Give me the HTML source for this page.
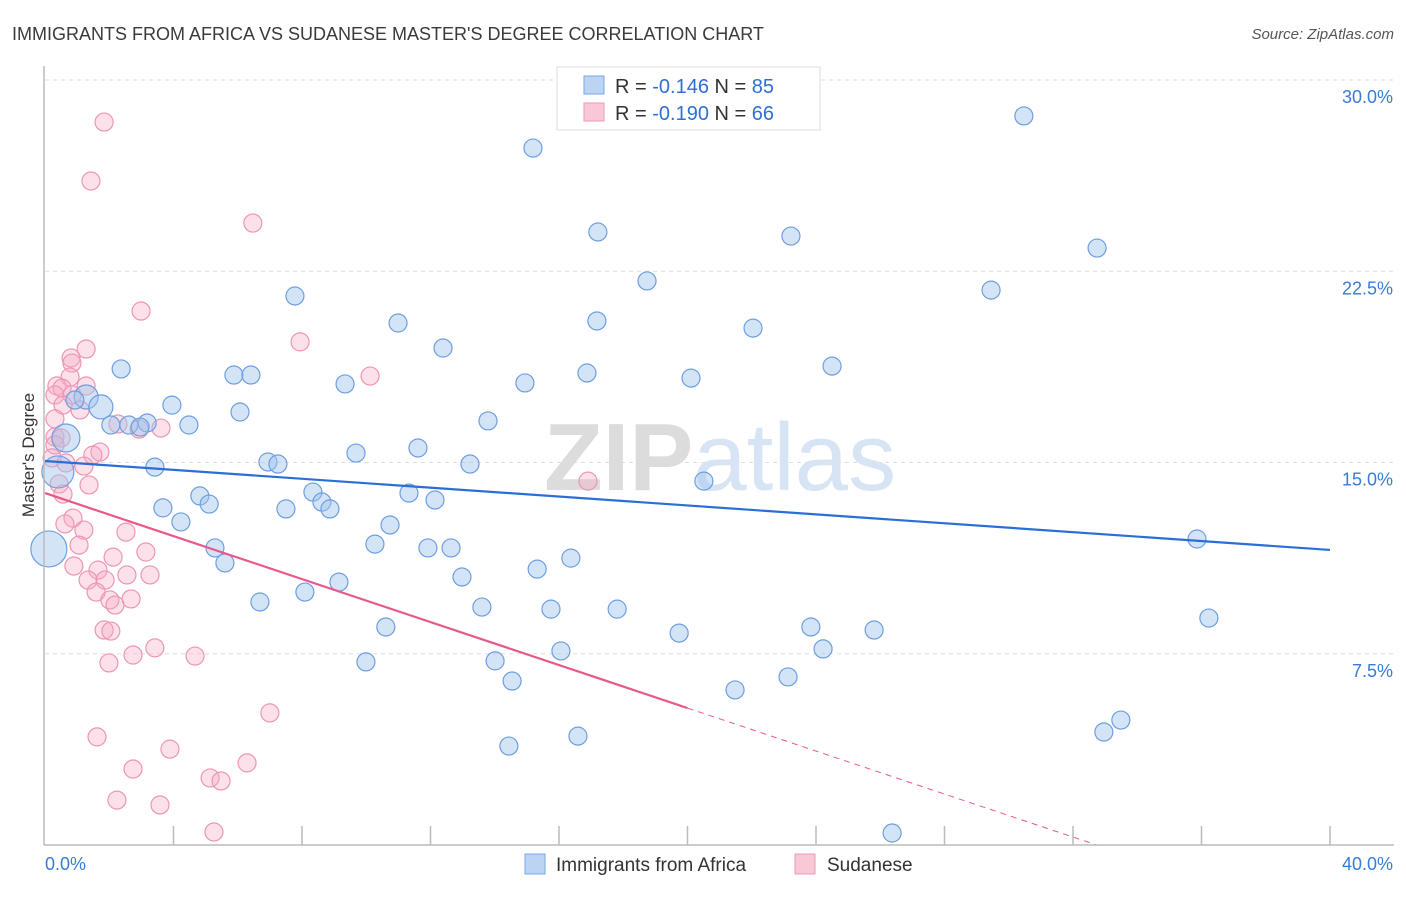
<!DOCTYPE html>
<html><head><meta charset="utf-8"><style>
body{margin:0;background:#fff;font-family:"Liberation Sans",sans-serif;}
svg text{font-family:"Liberation Sans",sans-serif;}
</style></head><body>
<svg id="chart" width="1406" height="892" xmlns="http://www.w3.org/2000/svg">
<text x="12" y="40" font-size="18" fill="#3a3a3a">IMMIGRANTS FROM AFRICA VS SUDANESE MASTER'S DEGREE CORRELATION CHART</text>
<text x="1394" y="39" font-size="15" font-style="italic" fill="#555" text-anchor="end">Source: ZipAtlas.com</text>
<g id="grid"></g>
<text x="720" y="490" font-size="96" text-anchor="middle" fill="#e4e4e4" font-family="Liberation Serif"><tspan font-weight="bold" fill="#dcdcdc">ZIP</tspan><tspan fill="#d6e4f4" font-family="Liberation Sans">atlas</tspan></text>
<g id="pts"></g>
<g id="lines"></g>
<g id="axes"></g>
<text transform="translate(34,455) rotate(-90)" font-size="17" fill="#333" text-anchor="middle">Master's Degree</text>
<g>
<rect x="557" y="67" width="263" height="63" fill="#fff" stroke="#ddd"/>
<rect x="584" y="76" width="20" height="18" fill="#bcd4f4" stroke="#7aa7e4"/>
<text x="615" y="93" font-size="20" fill="#333">R = <tspan fill="#2f6fd3">-0.146</tspan>   N = <tspan fill="#2f6fd3">85</tspan></text>
<rect x="584" y="103" width="20" height="18" fill="#f9c8d6" stroke="#ee9ab6"/>
<text x="615" y="120" font-size="20" fill="#333">R = <tspan fill="#2f6fd3">-0.190</tspan>   N = <tspan fill="#2f6fd3">66</tspan></text>
</g>
<g>
<rect x="525" y="854" width="20" height="20" fill="#bcd4f4" stroke="#7aa7e4"/>
<text x="556" y="871" font-size="19" fill="#333">Immigrants from Africa</text>
<rect x="795" y="854" width="20" height="20" fill="#f9c8d6" stroke="#ee9ab6"/>
<text x="827" y="871" font-size="19" fill="#333">Sudanese</text>
</g>
</svg>
<script>
const xTickLabels=["0.0%","40.0%"];
const yTicks=[7.5,15,22.5,30];
const yTickLabels=["7.5%","15.0%","22.5%","30.0%"];
const africaX=[15.19,30.47,17.21,23.22,32.75,18.74,29.45,7.78,10.99,17.18,22.04,12.39,24.50,2.37,5.88,6.41,14.94,16.87,9.34,20.11,1.28,1.74,0.93,3.95,6.07,3.18,2.05,2.61,2.96,4.48,13.79,0.65,11.61,9.68,6.94,7.25,13.23,3.42,0.40,20.51,8.34,4.82,11.33,8.62,12.14,5.11,3.67,7.50,8.87,4.23,10.74,10.27,5.29,11.92,12.64,16.37,5.60,0.12,15.32,12.98,9.15,35.86,8.09,6.69,13.60,15.75,17.81,36.23,10.61,23.84,25.81,19.74,24.22,16.06,9.99,14.01,14.54,23.13,21.48,33.49,32.96,14.44,16.59,26.37];
const africaY=[27.33,28.59,24.04,23.88,23.41,22.12,21.76,21.53,20.47,20.55,20.27,19.49,18.78,18.67,18.43,18.43,18.12,18.51,18.08,18.31,17.57,17.18,17.45,17.25,16.98,16.55,16.47,16.47,16.39,16.47,16.63,15.96,15.57,15.37,15.02,14.94,14.94,14.82,14.63,14.27,13.84,13.69,13.80,13.45,13.53,13.37,13.22,13.18,13.18,12.67,12.55,11.80,11.65,11.65,11.65,11.25,11.06,11.61,10.82,10.51,10.31,12.0,9.92,9.53,9.33,9.25,9.25,8.90,8.55,8.55,8.43,8.31,7.69,7.61,7.18,7.22,6.43,6.59,6.08,4.90,4.43,3.88,4.27,0.47];
const africaSize=[9,9,9,9,9,9,9,9,9,9,9,9,9,9,9,9,9,9,9,9,12,12,9,9,9,9,9,9,9,9,9,14,9,9,9,9,9,9,16,9,9,9,9,9,9,9,9,9,9,9,9,9,9,9,9,9,9,18,9,9,9,9,9,9,9,9,9,9,9,9,9,9,9,9,9,9,9,9,9,9,9,9,9,9];
const sudanX=[1.84,1.43,6.47,2.99,7.94,10.12,1.28,0.81,0.84,0.78,0.37,0.53,1.28,0.31,0.84,0.56,1.09,0.31,0.31,0.50,2.27,2.93,3.61,0.31,1.71,1.49,0.22,0.65,1.21,0.44,0.56,1.37,16.90,0.87,0.62,1.21,2.52,1.06,3.14,2.12,0.90,1.65,2.55,3.27,1.34,1.87,1.59,2.02,2.68,2.18,1.84,2.05,3.42,2.74,4.67,1.99,7.0,1.62,3.89,2.74,6.29,5.14,5.48,2.24,3.58,5.26];
const sudanY=[28.35,26.04,24.39,20.94,19.73,18.39,19.45,19.10,18.90,18.35,18.0,17.92,18.0,17.65,17.65,17.25,17.06,16.71,16.0,15.96,16.51,16.31,16.35,15.69,15.41,15.29,15.18,14.98,14.86,14.16,13.76,14.12,14.27,12.82,12.59,12.35,12.27,11.76,11.49,11.29,10.94,10.78,10.59,10.59,10.39,10.39,9.92,9.61,9.65,9.41,8.43,8.39,7.73,7.45,7.41,7.14,5.18,4.24,3.76,2.98,3.22,2.63,2.51,1.76,1.57,0.51];
const africaTrend=[15.06,11.57];
const sudanTrend=[13.8,5.37];
const sx=v=>45+v*32.125, sy=v=>845-v*25.5;
const NS="http://www.w3.org/2000/svg";
function mk(tag,attrs,parent){const e=document.createElementNS(NS,tag);for(const k in attrs)e.setAttribute(k,attrs[k]);parent.appendChild(e);return e;}
const grid=document.getElementById('grid'),axes=document.getElementById('axes'),pts=document.getElementById('pts'),lines=document.getElementById('lines');
yTicks.forEach((t,i)=>{
 const l=mk('line',{x1:45,x2:1394,y1:sy(t),y2:sy(t),stroke:'#ddd','stroke-dasharray':'4,4'},grid);
 
 
 const tx=mk('text',{x:1393,y:sy(t)+23,'font-size':18,fill:'#3a7bd5','text-anchor':'end'},axes);
 tx.textContent=yTickLabels[i];
 
 
});
const ya=mk('line',{x1:44,x2:44,y1:66,y2:845,stroke:'#bbb','stroke-width':1.5},axes);


const xa=mk('line',{x1:44,x2:1394,y1:845,y2:845,stroke:'#bbb','stroke-width':1.5},axes);


for(let i=1;i<=10;i++){const tk=mk('line',{x1:sx(i*4),x2:sx(i*4),y1:826,y2:845,stroke:'#bbb','stroke-width':1.5},axes);
 
 }
const xl0=mk('text',{x:45,y:870,'font-size':18,fill:'#3a7bd5'},axes);xl0.textContent=xTickLabels[0];


const xl1=mk('text',{x:1393,y:870,'font-size':18,fill:'#3a7bd5','text-anchor':'end'},axes);xl1.textContent=xTickLabels[1];


sudanX.forEach((x,i)=>{const c=mk('circle',{cx:sx(x),cy:sy(sudanY[i]),r:9,fill:'rgba(246,170,195,0.35)',stroke:'#ee95b3','stroke-width':1.2},pts);
 
 });
africaX.forEach((x,i)=>{const c=mk('circle',{cx:sx(x),cy:sy(africaY[i]),r:africaSize[i],fill:'rgba(160,195,238,0.45)',stroke:'#6e9ee0','stroke-width':1.2},pts);
 
 });
const bl=mk('line',{x1:sx(0),y1:sy(africaTrend[0]),x2:sx(40),y2:sy(africaTrend[1]),stroke:'#2a6fd6','stroke-width':2.2},lines);


const slope=(sudanTrend[1]-sudanTrend[0])/20, xz=-sudanTrend[0]/slope;
const pl=mk('line',{x1:sx(0),y1:sy(sudanTrend[0]),x2:sx(20),y2:sy(sudanTrend[1]),stroke:'#e8588a','stroke-width':2.2},lines);


const pd=mk('line',{x1:sx(20),y1:sy(sudanTrend[1]),x2:sx(xz),y2:sy(0),stroke:'#e8588a','stroke-width':1,'stroke-dasharray':'6,5'},lines);


</script>
</body></html>
